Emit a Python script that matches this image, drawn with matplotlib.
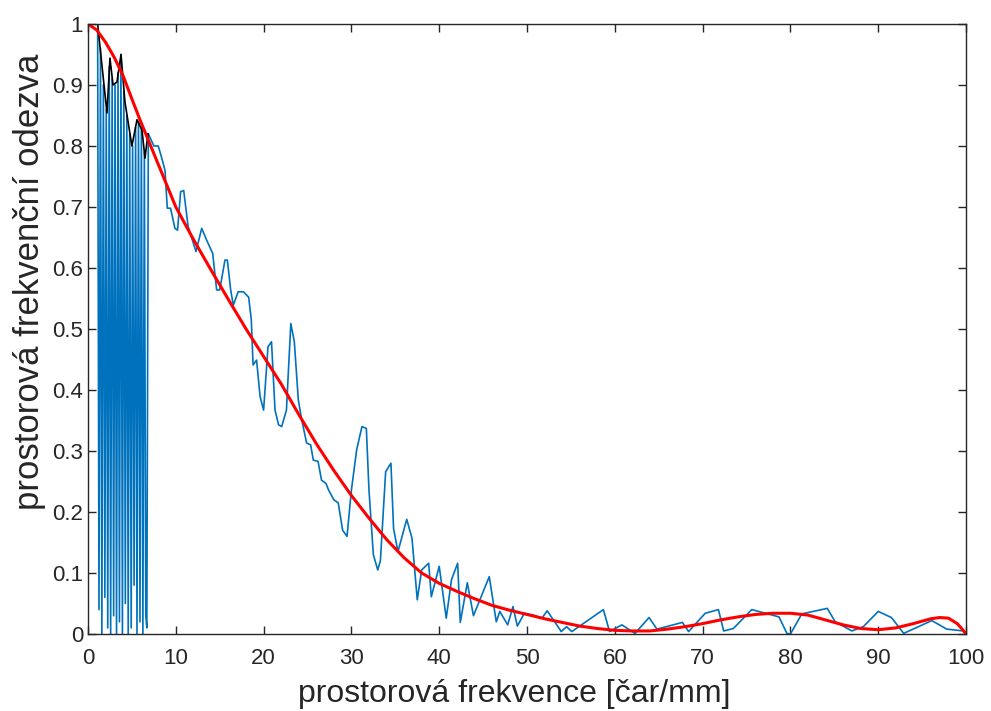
import numpy as np
import matplotlib
matplotlib.use('Agg')
import matplotlib.pyplot as plt


plt.rcParams['font.family'] = ['Liberation Sans', 'DejaVu Sans']


# measured response, low frequency part (very noisy)
osc_x = [1.10, 1.25, 1.42, 1.58, 1.75, 1.92, 2.08, 2.25, 2.42, 2.58, 2.75, 2.92,
         3.08, 3.25, 3.42, 3.58, 3.75, 3.92, 4.08, 4.25, 4.42, 4.58, 4.75, 4.92,
         5.08, 5.25, 5.42, 5.58, 5.75, 5.92, 6.08, 6.25, 6.42, 6.58, 6.70]
osc_y = [0.99, 0.04, 0.96, 0.00, 0.90, 0.06, 0.86, 0.01, 0.93, 0.00, 0.91, 0.03,
         0.90, 0.00, 0.92, 0.02, 0.95, 0.00, 0.89, 0.05, 0.85, 0.00, 0.82, 0.01,
         0.80, 0.08, 0.83, 0.00, 0.84, 0.02, 0.83, 0.00, 0.79, 0.03, 0.01]

# measured response, rest of the range
meas_x = [6.87, 7.5, 8.0, 8.4, 8.77, 9.03, 9.4, 9.9, 10.2, 10.55, 10.9, 11.4,
          12.3, 12.95, 13.5, 14.2, 14.65, 15.0, 15.6, 15.87, 16.25, 16.55, 17.1,
          17.7, 18.3, 18.6, 18.8, 19.2, 19.6, 20.0, 20.5, 20.9, 21.3, 21.7, 22.06,
          22.6, 23.1, 23.5, 23.95, 24.3, 24.9, 25.36, 25.66, 26.2, 26.6, 27.1,
          27.4, 28.0, 28.5, 29.0, 29.5, 30.0, 30.6, 31.2, 31.7, 32.0, 32.5, 33.0,
          33.3, 33.9, 34.5, 34.8, 35.3, 36.3, 36.9, 37.5, 38.0, 38.8, 39.1, 40.0,
          40.8, 41.4, 42.1, 42.4, 43.2, 43.9, 45.7, 46.5, 46.9, 47.8, 48.4, 48.9,
          49.7, 50.7, 51.7, 52.3, 53.9, 54.5, 55.1, 58.7, 59.4, 60.8, 62.3, 63.9,
          64.8, 67.7, 68.4, 70.3, 71.8, 72.4, 73.5, 75.6, 78.7, 79.6, 80.0, 81.3,
          84.2, 85.1, 87.0, 88.3, 90.0, 91.5, 92.9, 96.1, 97.8, 99.7, 100.0]
meas_y = [0.82, 0.80, 0.80, 0.78, 0.76, 0.698, 0.698, 0.665, 0.662, 0.725, 0.727, 0.668,
          0.627, 0.665, 0.646, 0.624, 0.564, 0.564, 0.613, 0.613, 0.564, 0.539, 0.561,
          0.561, 0.552, 0.515, 0.441, 0.449, 0.389, 0.367, 0.471, 0.479, 0.367, 0.343, 0.340,
          0.367, 0.509, 0.479, 0.384, 0.354, 0.313, 0.310, 0.285, 0.283, 0.252, 0.247,
          0.236, 0.22, 0.215, 0.17, 0.16, 0.236, 0.302, 0.340, 0.337, 0.236, 0.13, 0.105,
          0.12, 0.266, 0.28, 0.173, 0.135, 0.188, 0.157, 0.056, 0.105, 0.116, 0.061, 0.111,
          0.026, 0.089, 0.116, 0.019, 0.084, 0.030, 0.094, 0.020, 0.037, 0.015, 0.045, 0.013,
          0.034, 0.031, 0.026, 0.038, 0.004, 0.012, 0.004, 0.040, 0.004, 0.015, 0.001, 0.027,
          0.008, 0.019, 0.004, 0.034, 0.040, 0.005, 0.009, 0.040, 0.028, 0.001, 0.0, 0.033,
          0.042, 0.020, 0.005, 0.012, 0.037, 0.027, 0.001, 0.022, 0.008, 0.005, 0.0]

# smoothed low frequency part (black)
smooth_x = [1.1, 1.37, 2.16, 2.5, 2.85, 3.3, 3.76, 4.21, 5.0, 5.58, 6.15, 6.49, 6.83]
smooth_y = [1.0, 0.962, 0.854, 0.944, 0.90, 0.905, 0.95, 0.872, 0.80, 0.843, 0.826, 0.78, 0.82]

# theoretical MTF (red)
theo_x = [0, 1, 2, 3, 4, 5, 6, 7, 8, 9, 10, 12, 14, 16, 18, 20, 22, 24, 26, 28, 30,
          32, 34, 36, 38, 40, 42, 44, 46, 48, 50, 52, 54, 56, 58, 60, 62, 64, 66, 68,
          70, 72, 74, 76, 78, 80, 82, 84, 86, 88, 90, 92, 94, 95, 96, 97, 98, 99, 99.5, 100]
theo_y = [1.0, 0.99, 0.97, 0.945, 0.915, 0.877, 0.84, 0.805, 0.77, 0.735, 0.70, 0.647,
          0.597, 0.548, 0.50, 0.455, 0.41, 0.36, 0.312, 0.268, 0.227, 0.19, 0.155, 0.125,
          0.10, 0.083, 0.07, 0.058, 0.047, 0.039, 0.032, 0.025, 0.019, 0.013, 0.009, 0.006,
          0.005, 0.005, 0.008, 0.012, 0.017, 0.023, 0.028, 0.032, 0.034, 0.034, 0.031, 0.023,
          0.015, 0.009, 0.007, 0.010, 0.017, 0.021, 0.025, 0.027, 0.026, 0.017, 0.009, 0.0]


fig = plt.figure(figsize=(9.91, 7.11), dpi=100)
ax = fig.add_axes([0.0888, 0.1083, 0.886, 0.858])

ax.plot(osc_x + meas_x, osc_y + meas_y, color='#0072BD', lw=1.2)
ax.plot(smooth_x, smooth_y, color='k', lw=1.2)
ax.plot(theo_x, theo_y, color='r', lw=2.2)

ax.set_xlim(0, 100)
ax.set_ylim(0, 1)
ax.set_xticks(np.arange(0, 101, 10))
ax.set_yticks(np.arange(0, 1.01, 0.1))
ax.set_yticklabels(['0', '0.1', '0.2', '0.3', '0.4', '0.5', '0.6', '0.7', '0.8', '0.9', '1'])

gray = '#262626'
for s in ax.spines.values():
    s.set_color(gray)
    s.set_linewidth(1.0)
ax.tick_params(direction='in', top=True, right=True, length=6, width=1.0,
               colors=gray, labelsize=16, labelcolor=gray)
ax.tick_params(axis='x', pad=10)

# label sits at the bottom edge, as in the original
ax.set_xlabel('prostorová frekvence [čar/mm]', fontsize=23, color=gray)
ax.xaxis.set_label_coords(0.486, -0.074)
ax.set_ylabel('prostorová frekvenční odezva', fontsize=25, color=gray)
ax.yaxis.set_label_coords(-0.048, 0.578)

fig.savefig('out.png', dpi=100)
